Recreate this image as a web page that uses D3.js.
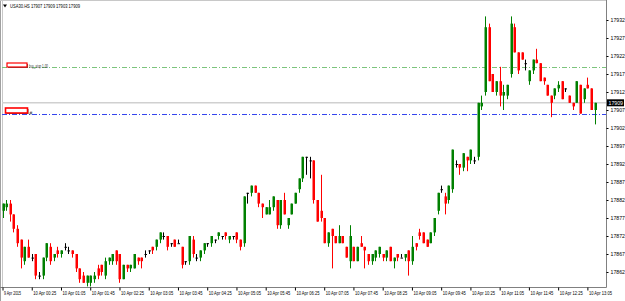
<!DOCTYPE html>
<html>
<head>
<meta charset="utf-8">
<script src="https://cdn.jsdelivr.net/npm/d3@7"></script>
<style>
body { margin: 0; background: #fff; }
svg { display: block; font-family: "Liberation Sans", Arial, sans-serif; }
</style>
</head>
<body>
<script>
// USA30.HS, M5 bars from 9 Apr 2015 23:45
const symbol = 'USA30.HS';
const startTime = new Date(2015, 3, 9, 23, 45);
const barMinutes = 5;

const opens = [
  17879,17880,17881,17878,17874,17871,17865,17869,17866,17867,17861,17861,17866,17869,17866,17868,17867,17869,17868,17868,
  17867,17863,17861,17859,17859,17860,17863,17864,17861,17865,17865,17868,17867,17860,17864,17863,17863,17866,17866,17867,
  17868,17869,17869,17871,17872,17872,17870,17871,17870,17869,17865,17865,17871,17866,17866,17868,17870,17870,17871,17872,
  17872,17873,17871,17872,17873,17871,17870,17884,17884,17886,17884,17881,17878,17878,17880,17882,17875,17882,17875,17878,
  17881,17885,17888,17894,17893,17893,17882,17879,17877,17870,17874,17872,17870,17872,17869,17865,17869,17865,17870,17869,
  17867,17865,17866,17867,17867,17866,17869,17865,17867,17866,17866,17868,17865,17870,17873,17873,17871,17870,17873,17879,
  17885,17883,17882,17885,17892,17892,17891,17894,17893,17893,17894,17908,17912,17930,17917,17912,17915,17911,17911,17917,
  17930,17923,17923,17920,17915,17918,17921,17920,17916,17914,17911,17911,17913,17915,17913,17911,17909,17909,17914,17910,
  17914,17913,17907];
const highs = [
  17881,17882,17882,17878,17875,17871,17869,17871,17867,17867,17862,17866,17870,17870,17867,17869,17868,17870,17869,17868,
  17867,17863,17862,17861,17861,17862,17864,17864,17866,17866,17867,17868,17867,17864,17864,17864,17867,17866,17866,17868,
  17868,17869,17871,17873,17873,17872,17870,17871,17871,17869,17865,17872,17872,17867,17868,17870,17870,17872,17871,17873,
  17872,17873,17872,17872,17873,17871,17883,17884,17886,17886,17884,17881,17880,17882,17883,17882,17882,17884,17877,17881,
  17884,17888,17894,17894,17894,17893,17882,17889,17877,17873,17874,17872,17875,17872,17869,17875,17869,17869,17872,17869,
  17867,17867,17868,17869,17867,17868,17869,17866,17867,17867,17867,17868,17872,17870,17874,17873,17871,17873,17877,17884,
  17886,17884,17886,17896,17893,17892,17895,17894,17896,17894,17909,17911,17933,17931,17917,17915,17919,17914,17914,17933,
  17931,17923,17923,17921,17918,17921,17924,17920,17916,17914,17911,17913,17915,17915,17913,17911,17909,17915,17914,17913,
  17916,17913,17909];
const lows = [
  17877,17879,17876,17873,17869,17863,17864,17866,17865,17860,17860,17860,17865,17864,17865,17866,17866,17868,17867,17866,
  17862,17859,17859,17858,17858,17859,17860,17861,17860,17864,17864,17864,17859,17860,17862,17862,17863,17864,17863,17866,
  17867,17867,17868,17870,17871,17868,17869,17869,17870,17863,17864,17864,17866,17865,17865,17867,17869,17869,17870,17871,
  17871,17871,17870,17871,17870,17868,17869,17881,17883,17884,17880,17877,17878,17878,17879,17874,17874,17878,17874,17878,
  17881,17884,17887,17889,17888,17881,17876,17876,17870,17869,17863,17870,17870,17870,17866,17863,17865,17865,17869,17863,
  17864,17864,17865,17866,17865,17865,17865,17863,17865,17866,17865,17861,17864,17868,17871,17870,17869,17870,17872,17878,
  17884,17878,17881,17884,17891,17889,17890,17890,17892,17892,17893,17907,17911,17915,17912,17911,17908,17907,17910,17916,
  17923,17917,17921,17918,17914,17917,17920,17915,17914,17911,17905,17910,17912,17910,17912,17909,17907,17909,17906,17909,
  17913,17907,17903];
const closes = [
  17881,17881,17878,17874,17870,17866,17869,17866,17866,17861,17861,17866,17870,17865,17867,17867,17868,17869,17868,17867,
  17863,17860,17859,17861,17861,17861,17861,17862,17865,17866,17867,17865,17860,17864,17863,17864,17867,17865,17865,17867,
  17868,17868,17871,17873,17872,17869,17870,17869,17870,17864,17865,17872,17867,17866,17868,17870,17870,17872,17871,17873,
  17872,17872,17872,17872,17871,17869,17883,17884,17886,17884,17881,17880,17880,17880,17883,17875,17882,17878,17877,17881,
  17884,17888,17894,17894,17893,17882,17876,17877,17870,17873,17872,17870,17872,17870,17866,17872,17865,17869,17869,17868,
  17865,17867,17868,17869,17866,17868,17865,17866,17866,17866,17867,17865,17869,17869,17872,17870,17869,17873,17877,17884,
  17885,17881,17886,17896,17892,17891,17895,17893,17896,17893,17909,17909,17930,17915,17912,17915,17911,17912,17914,17931,
  17923,17918,17921,17920,17918,17921,17920,17915,17915,17911,17909,17913,17914,17910,17913,17909,17908,17915,17906,17913,
  17913,17907,17909];

const priceTicks = [17932, 17927, 17922, 17917, 17912, 17907, 17902, 17897, 17892, 17887, 17882, 17877, 17872, 17867, 17862];
const timeTickLabels = ['9 Apr 2015', '10 Apr 00:25', '10 Apr 01:05', '10 Apr 01:45', '10 Apr 02:25', '10 Apr 03:05',
  '10 Apr 03:45', '10 Apr 04:25', '10 Apr 05:05', '10 Apr 05:45', '10 Apr 06:25', '10 Apr 07:05', '10 Apr 07:45',
  '10 Apr 08:25', '10 Apr 09:05', '10 Apr 09:45', '10 Apr 10:25', '10 Apr 11:05', '10 Apr 11:45', '10 Apr 12:25', '10 Apr 13:05'];

const bidPrice = 17909;
const buyStopPrice = 17919;
const buyStopLabel = 'buy_stop 1.00';
const orderPrice = 17906;

const W = 625, H = 301;
const plot = { l: 2, r: 606, t: 1, b: 287 };

const bars = opens.map((o, i) => ({
  t: new Date(startTime.getTime() + i * barMinutes * 60000),
  o: o, h: highs[i], l: lows[i], c: closes[i]
}));

const svg = d3.select('body').append('svg')
  .attr('width', W)
  .attr('height', H);

svg.append('rect').attr('width', W).attr('height', H).attr('fill', '#fff');

const x = d3.scaleTime()
  .domain([bars[0].t, bars[bars.length - 1].t])
  .range([plot.l + 0.5, 594.7]);

const y = d3.scaleLinear()
  .domain([17862, 17932])
  .range([272, 20]);

// frame
svg.append('line').attr('x1', 0.5).attr('x2', 0.5).attr('y1', 0).attr('y2', H).attr('stroke', '#a0a0a0');
svg.append('line').attr('x1', 2.5).attr('x2', 2.5).attr('y1', 0).attr('y2', plot.b).attr('stroke', '#c8c8c8');
svg.append('line').attr('x1', 0).attr('x2', plot.r).attr('y1', 0.5).attr('y2', 0.5).attr('stroke', '#c8c8c8');

// bid line
svg.append('line')
  .attr('x1', plot.l).attr('x2', plot.r)
  .attr('y1', y(bidPrice)).attr('y2', y(bidPrice))
  .attr('stroke', '#d0d0d0').attr('stroke-width', 1.5);

// pending order levels
svg.append('line')
  .attr('x1', plot.l).attr('x2', plot.r)
  .attr('y1', Math.round(y(buyStopPrice)) + 0.5).attr('y2', Math.round(y(buyStopPrice)) + 0.5)
  .attr('stroke', '#7cc47c').attr('stroke-dasharray', '5,2,1,2');

svg.append('line')
  .attr('x1', plot.l).attr('x2', plot.r)
  .attr('y1', Math.round(y(orderPrice)) + 0.5).attr('y2', Math.round(y(orderPrice)) + 0.5)
  .attr('stroke', '#3344ee').attr('stroke-dasharray', '5,2,1,2');

// candles
const bodyW = 2;
const candle = svg.append('g').selectAll('g')
  .data(bars)
  .join('g');

const colorOf = d => d.c > d.o ? '#008000' : (d.c < d.o ? '#ff0000' : '#000');

candle.append('line')
  .attr('x1', d => Math.round(x(d.t)) + 0.5)
  .attr('x2', d => Math.round(x(d.t)) + 0.5)
  .attr('y1', d => y(d.h))
  .attr('y2', d => y(d.l))
  .attr('stroke', colorOf)
  .attr('stroke-width', 1);

candle.append('rect')
  .attr('x', d => Math.round(x(d.t)) - bodyW / 2 + 0.5)
  .attr('width', bodyW + 0.5)
  .attr('y', d => y(Math.max(d.o, d.c)))
  .attr('height', d => Math.max(1, Math.abs(y(d.o) - y(d.c))))
  .attr('fill', colorOf);

// order markers on the left
function marker(x0, y0, w, h, sw) {
  svg.append('rect').attr('x', x0 + 1).attr('y', y0 + 1).attr('width', w).attr('height', h).attr('fill', '#555');
  svg.append('rect').attr('x', x0).attr('y', y0).attr('width', w).attr('height', h)
    .attr('fill', '#fff').attr('stroke', '#ff0000').attr('stroke-width', sw);
}
marker(7, Math.round(y(buyStopPrice)) - 4, 20, 4, 1.2);
svg.append('text')
  .attr('x', 29).attr('y', Math.round(y(buyStopPrice)) + 0.5)
  .attr('font-size', 5).attr('fill', '#333')
  .attr('textLength', 19).attr('lengthAdjust', 'spacingAndGlyphs')
  .text(buyStopLabel);

marker(5.5, Math.round(y(orderPrice)) - 6, 22, 5, 1.6);
svg.append('text')
  .attr('x', 29.5).attr('y', Math.round(y(orderPrice)) + 1)
  .attr('font-size', 5).attr('fill', '#333')
  .text('#');

// price axis
const yAxis = d3.axisRight(y)
  .tickValues(priceTicks)
  .tickFormat(d3.format('d'))
  .tickSize(2)
  .tickPadding(2);

const yG = svg.append('g')
  .attr('transform', `translate(${plot.r + 0.5},0)`)
  .call(yAxis);
yG.select('.domain').attr('d', `M0,0V${plot.b + 0.5}`).attr('stroke', '#808080');
yG.selectAll('.tick line').attr('stroke', '#000');
yG.selectAll('.tick text').attr('font-size', 5.2).attr('fill', '#000')
  .attr('textLength', 14.5).attr('lengthAdjust', 'spacingAndGlyphs');

// current price box
svg.append('rect')
  .attr('x', plot.r + 1).attr('y', y(bidPrice) - 3.5)
  .attr('width', 17).attr('height', 7).attr('fill', '#000');
svg.append('text')
  .attr('x', plot.r + 2.5).attr('y', y(bidPrice) + 2)
  .attr('font-size', 5.2).attr('fill', '#fff')
  .attr('textLength', 14.5).attr('lengthAdjust', 'spacingAndGlyphs')
  .text(bidPrice);

// time axis
const timeTicks = timeTickLabels.map((s, k) => bars[k * 8].t);
const xAxis = d3.axisBottom(x)
  .tickValues(timeTicks)
  .tickFormat((d, k) => timeTickLabels[k])
  .tickSize(3)
  .tickPadding(1);

const xG = svg.append('g')
  .attr('transform', `translate(0,${plot.b + 0.5})`)
  .call(xAxis);
xG.select('.domain').attr('d', `M0,0H${plot.r + 0.5}`).attr('stroke', '#808080');
xG.selectAll('.tick line').attr('stroke', '#000');
xG.selectAll('.tick text')
  .attr('text-anchor', 'start')
  .attr('dx', 1)
  .attr('font-size', 5).attr('fill', '#000')
  .attr('textLength', (d, k) => k === 0 ? 17 : 23)
  .attr('lengthAdjust', 'spacingAndGlyphs');

// header
svg.append('path')
  .attr('d', 'M3,4.5 L7,4.5 L5,7.5 Z')
  .attr('fill', '#000');
svg.append('text')
  .attr('x', 10).attr('y', 8)
  .attr('font-size', 5.2).attr('fill', '#000')
  .attr('textLength', 70).attr('lengthAdjust', 'spacingAndGlyphs')
  .text(`${symbol} ${opens[opens.length - 1]} ${highs[highs.length - 1]} ${lows[lows.length - 1]} ${closes[closes.length - 1]}`);
</script>
</body>
</html>
